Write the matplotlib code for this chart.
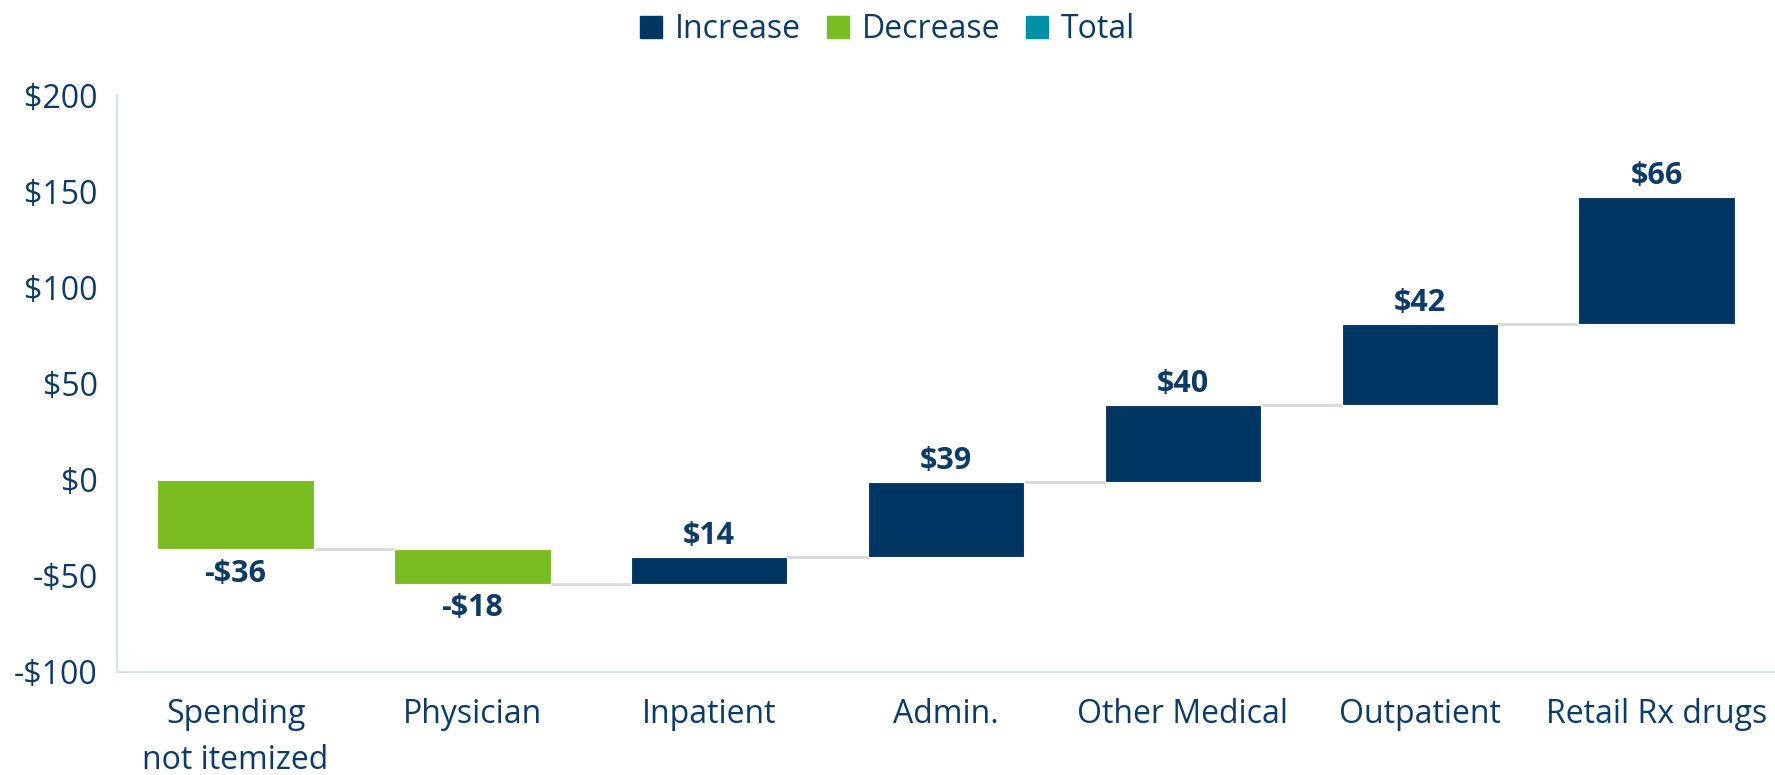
import matplotlib
matplotlib.use("Agg")
import matplotlib.pyplot as plt
from matplotlib.patches import Patch

categories = ["Spending\nnot itemized", "Physician", "Inpatient", "Admin.",
              "Other Medical", "Outpatient", "Retail Rx drugs"]
values = [-36, -18, 14, 39, 40, 42, 66]
ytick_vals = [-100, -50, 0, 50, 100, 150, 200]
ytick_labels = ["-$100", "-$50", "$0", "$50", "$100", "$150", "$200"]

C_INC = "#003662"
C_DEC = "#7abd23"
C_TOT = "#0090a8"
TXT = "#0d3b66"

plt.rcParams['font.family'] = ['Open Sans', 'DejaVu Sans']

fig = plt.figure(figsize=(17.75, 7.75), dpi=100)
ax = fig.add_axes([0.066, 0.133, 0.934, 0.744])

bottoms = []
cum = 0
for v in values:
    bottoms.append(cum)
    cum += v

width = 0.66
for i, (v, b) in enumerate(zip(values, bottoms)):
    color = C_INC if v >= 0 else C_DEC
    ax.bar(i, v, bottom=b, width=width, color=color, edgecolor="white", linewidth=0.8, zorder=3)
    end = b + v
    if v >= 0:
        ax.text(i, end + 3, f"${v}", ha="center", va="bottom", fontsize=22,
                fontweight="bold", color=TXT)
    else:
        ax.text(i, end - 5, f"-${abs(v)}", ha="center", va="top", fontsize=22,
                fontweight="bold", color=TXT)
    if i < len(values) - 1:
        ax.plot([i + width / 2, i + 1 - width / 2], [end, end], color="#d9d9d9",
                linewidth=2, zorder=2)

ax.set_xlim(-0.5, len(values) - 0.5)
ax.set_ylim(-100, 200)
ax.set_yticks(ytick_vals)
ax.set_yticklabels(ytick_labels)
ax.set_xticks(range(len(categories)))
ax.set_xticklabels(categories, linespacing=1.5)
ax.tick_params(axis="both", length=0, labelsize=23, labelcolor=TXT)
ax.tick_params(axis="x", pad=19)
ax.tick_params(axis="y", pad=14)
for s in ["top", "right"]:
    ax.spines[s].set_visible(False)
for s in ["left", "bottom"]:
    ax.spines[s].set_color("#cfe5f5")
    ax.spines[s].set_linewidth(1.5)

handles = [Patch(color=C_INC, label="Increase"), Patch(color=C_DEC, label="Decrease"),
           Patch(color=C_TOT, label="Total")]
fig.legend(handles=handles, loc="upper center", bbox_to_anchor=(0.5, 1.02), ncol=3,
           frameon=False, fontsize=23, handlelength=0.7, handleheight=0.7,
           handletextpad=0.4, columnspacing=0.8, labelcolor=TXT)

fig.savefig("out.png", dpi=100)
